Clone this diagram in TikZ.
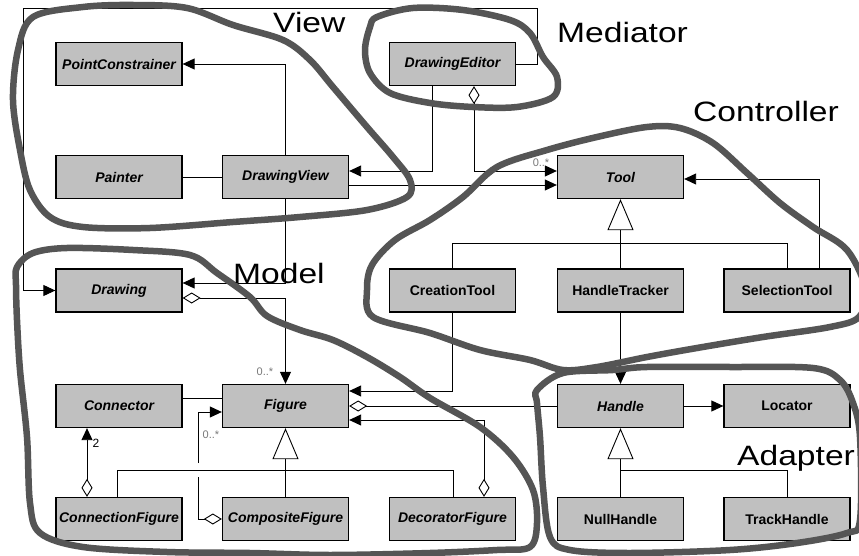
\documentclass[tikz,border=0pt]{standalone}
\usepackage{fontspec}
\setmainfont{Liberation Sans}
\usetikzlibrary{arrows.meta}
\definecolor{boxgray}{RGB}{192,192,192}
\definecolor{loopgray}{RGB}{85,85,85}
\definecolor{lblgray}{RGB}{120,120,120}
\begin{document}
\begin{tikzpicture}[x=1pt,y=-1pt,
  cls/.style={draw=black,line width=1.3pt,fill=boxgray,minimum width=126pt,minimum height=43pt,inner sep=0pt,font=\fontsize{14}{16}\selectfont\bfseries},
  icls/.style={cls,font=\fontsize{14}{16}\selectfont\bfseries\itshape},
  conn/.style={line width=0.9pt,draw=black},
  arr/.style={conn,-{Triangle[length=12pt,width=11pt]}},
  agg/.style={conn,{Diamond[open,length=18pt,width=11pt]}-},
  aggarr/.style={conn,{Diamond[open,length=18pt,width=11pt]}-{Triangle[length=12pt,width=11pt]}},
  gen/.style={conn,-{Triangle[open,length=31pt,width=26pt]}},
  outline/.style={draw=loopgray,line width=6.5pt,line join=round},
  biglbl/.style={anchor=base west,inner sep=0pt,font=\fontsize{28}{30}\selectfont},
  smlbl/.style={inner sep=0pt,text=lblgray,font=\fontsize{11}{12}\selectfont}]
\useasboundingbox (0,0) rectangle (859,556);
\fill[white] (0,0) rectangle (859,556);
% boxes
\node[icls] (PC) at (119,64) {PointConstrainer};
\node[icls] (DEditor) at (452.5,64) {DrawingEditor};
\node[icls] (Painter) at (119,177) {Painter};
\node[icls] (DView) at (285.5,177) {DrawingView};
\node[icls] (Tool) at (620.5,177) {Tool};
\node[icls] (Drawing) at (119,290.5) {Drawing};
\node[cls] (CTool) at (452.5,290.5) {CreationTool};
\node[cls] (HTrack) at (620.5,290.5) {HandleTracker};
\node[cls] (STool) at (787,290.5) {SelectionTool};
\node[icls] (Connector) at (119,406) {Connector};
\node[icls] (Figure) at (285.5,406) {Figure};
\node[icls] (Handle) at (620.5,406) {Handle};
\node[cls] (Locator) at (787,406) {Locator};
\node[icls] (ConnFig) at (119,519) {ConnectionFigure};
\node[icls] (CompFig) at (285.5,519) {CompositeFigure};
\node[icls] (DFig) at (452.5,519) {DecoratorFigure};
\node[cls] (NHandle) at (620.5,519) {NullHandle};
\node[cls] (THandle) at (787,519) {TrackHandle};
% connectors
\draw[arr] (DEditor.east) -- (537,0 |- DEditor.east) -- (537,8) -- (23,8) -- (23,0 |- Drawing.west) -- (Drawing.west);
\draw[arr] (DView.north) |- (PC.east);
\draw[conn] (Painter) -- (DView);
\draw[arr] (432,0 |- DEditor.south) |- (DView.east |- 0,171);
\draw[aggarr] (474,0 |- DEditor.south) |- (Tool.west |- 0,171);
\draw[arr] (DView.east |- 0,185) -- (Tool.west |- 0,185);
\draw[arr] (DView.south) |- (Drawing.east |- 0,283);
\draw[aggarr] (Drawing.east |- 0,298) -| (Figure.north);
% tool hierarchy
\draw[conn] (CTool.north) |- (STool.north |- 0,243) -- (STool.north);
\draw[gen] (HTrack.north) -- (Tool.south);
\draw[arr] (819,0 |- STool.north) |- (Tool.east |- 0,179);
% figure relations
\draw[arr] (CTool.south) |- (Figure.east |- 0,391);
\draw[agg] (Figure.east) -- (Handle.west);
\draw[aggarr] (484,0 |- DFig.north) |- (Figure.east |- 0,420);
\draw[arr] (HTrack.south) -- (Handle.north);
\draw[arr] (Handle) -- (Locator);
% handle hierarchy
\draw[gen] (NHandle.north |- 0,470) -- (Handle.south);
\draw[conn] (NHandle.north) |- (THandle.north |- 0,470) -- (THandle.north);
% figure hierarchy
\draw[gen] (CompFig.north |- 0,470) -- (Figure.south);
\draw[conn] (CompFig.north) -- (CompFig.north |- 0,470);
\draw[conn] (117,0 |- ConnFig.north) |- (453,470) -- (453,0 |- DFig.north);
\draw[conn] (Connector.east |- 0,398) -- (Figure.west |- 0,398);
\draw[agg] (CompFig.west) -| (198,477);
\draw[arr] (198,463) |- (Figure.west |- 0,412);
\draw[aggarr] (87,0 |- ConnFig.north) -- (87,0 |- Connector.south);
% small labels
\node[smlbl] (m1) at (265,372) {0..*};
\node[smlbl] (m2) at (211,435) {0..*};
\node[smlbl] (m3) at (541,163) {0..*};
\node[inner sep=0pt,font=\fontsize{12}{13}\selectfont] (m4) at (96,443) {2};
% outlines
\draw[outline] plot[smooth cycle,tension=0.55] coordinates {(33,17) (83,7) (133,5) (187,8) (233,25) (283,40) (310,60) (333,87) (367,127) (393,157) (410,180) (407,197) (367,210) (300,217) (233,222) (150,228) (83,227) (50,217) (30,190) (20,150) (13,100) (18,50)};
\draw[outline] plot[smooth cycle,tension=0.55] coordinates {(377,17) (413,8) (463,10) (510,20) (530,33) (543,57) (557,77) (553,97) (517,107) (473,107) (430,103) (390,93) (370,73) (365,50) (370,27)};
\draw[outline] plot[smooth cycle,tension=0.55] coordinates {(430,220) (463,197) (497,167) (547,150) (597,137) (647,127) (680,128) (713,143) (747,173) (780,203) (813,227) (847,250) (866,290) (859,317) (830,327) (763,337) (697,348) (647,357) (597,367) (563,370) (530,360) (480,350) (430,333) (373,317) (367,290) (372,265) (395,240)};
\draw[outline] plot[smooth cycle,tension=0.55] coordinates {(17,267) (33,253) (67,248) (133,250) (190,255) (217,273) (250,297) (267,316) (300,330) (333,340) (367,357) (400,377) (430,398) (480,427) (513,457) (533,490) (537,523) (530,547) (497,550) (430,553) (330,555) (250,553) (167,552) (83,547) (40,533) (30,503) (27,437) (20,370) (17,320) (16,285)};
\draw[outline] plot[smooth cycle,tension=0.55] coordinates {(537,390) (563,373) (613,370) (647,367) (730,367) (813,368) (840,380) (853,403) (860,437) (860,520) (847,533) (797,543) (730,550) (630,553) (570,550) (550,537) (543,487) (540,437) (537,403)};
% group labels
\node[biglbl] (lView) at (273,33) {\scalebox{1.2}[1]{View}};
\node[biglbl] (lMed) at (557,43) {\scalebox{1.2}[1]{Mediator}};
\node[biglbl] (lCtrl) at (693,122) {\scalebox{1.2}[1]{Controller}};
\node[biglbl] (lModel) at (233,283) {\scalebox{1.2}[1]{Model}};
\node[biglbl] (lAdapt) at (737,465) {\scalebox{1.2}[1]{Adapter}};
\end{tikzpicture}
\end{document}
